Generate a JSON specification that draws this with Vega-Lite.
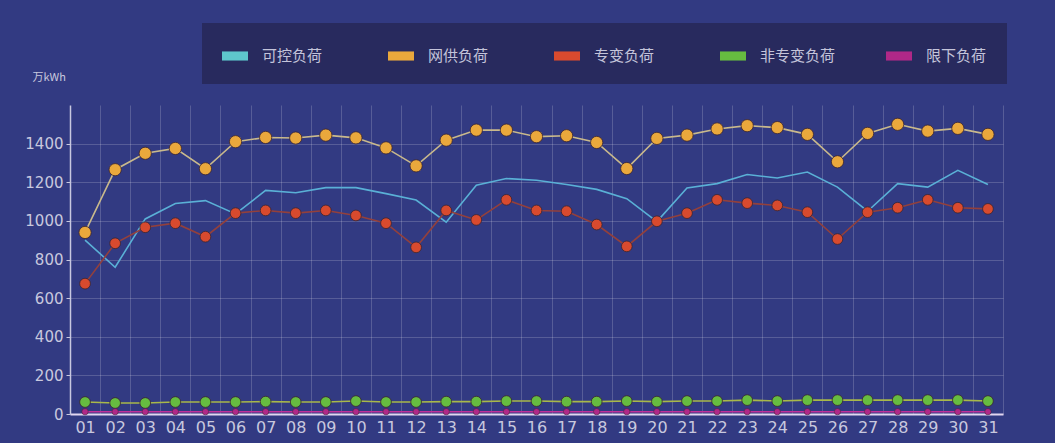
{
  "$schema": "https://vega.github.io/schema/vega-lite/v6.json",
  "width": 933,
  "height": 309,
  "autosize": {"type": "none"},
  "padding": {"left": 70, "top": 105, "right": 52, "bottom": 29},
  "background": "#323a82",
  "config": {
    "view": {"stroke": null},
    "font": "DejaVu Sans",
    "legend": {
      "orient": "none",
      "legendX": 132,
      "legendY": -82,
      "direction": "horizontal",
      "columns": 5,
      "gridAlign": "all",
      "columnPadding": 50,
      "symbolType": "M-1,-0.35L1,-0.35L1,0.35L-1,0.35Z",
      "symbolSize": 676,
      "symbolStrokeWidth": 0,
      "symbolOpacity": 1,
      "labelColor": "#c4c4da",
      "labelFont": "Noto Sans CJK SC",
      "labelFontSize": 15,
      "labelOffset": 14,
      "labelLimit": 200,
      "fillColor": "#282a5e",
      "padding": 20
    }
  },
  "data": {
    "values": [
      {"day": 1, "可控负荷": 900, "网供负荷": 940, "专变负荷": 675, "非专变负荷": 62, "限下负荷": 12},
      {"day": 2, "可控负荷": 760, "网供负荷": 1265, "专变负荷": 884, "非专变负荷": 57, "限下负荷": 12},
      {"day": 3, "可控负荷": 1010, "网供负荷": 1350, "专变负荷": 967, "非专变负荷": 57, "限下负荷": 12},
      {"day": 4, "可控负荷": 1090, "网供负荷": 1375, "专变负荷": 988, "非专变负荷": 62, "限下负荷": 12},
      {"day": 5, "可控负荷": 1105, "网供负荷": 1270, "专变负荷": 918, "非专变负荷": 62, "限下负荷": 12},
      {"day": 6, "可控负荷": 1036, "网供负荷": 1410, "专变负荷": 1040, "非专变负荷": 62, "限下负荷": 12},
      {"day": 7, "可控负荷": 1158, "网供负荷": 1432, "专变负荷": 1054, "非专变负荷": 64, "限下负荷": 12},
      {"day": 8, "可控负荷": 1146, "网供负荷": 1429, "专变负荷": 1040, "非专变负荷": 62, "限下负荷": 12},
      {"day": 9, "可控负荷": 1172, "网供负荷": 1444, "专变负荷": 1054, "非专变负荷": 62, "限下负荷": 12},
      {"day": 10, "可控负荷": 1172, "网供负荷": 1430, "专变负荷": 1028, "非专变负荷": 67, "限下负荷": 12},
      {"day": 11, "可控负荷": 1141, "网供负荷": 1378, "专变负荷": 988, "非专变负荷": 62, "限下负荷": 12},
      {"day": 12, "可控负荷": 1108, "网供负荷": 1285, "专变负荷": 863, "非专变负荷": 62, "限下负荷": 12},
      {"day": 13, "可控负荷": 993, "网供负荷": 1418, "专变负荷": 1054, "非专变负荷": 64, "限下负荷": 12},
      {"day": 14, "可控负荷": 1184, "网供负荷": 1470, "专变负荷": 1005, "非专变负荷": 64, "限下负荷": 12},
      {"day": 15, "可控负荷": 1219, "网供负荷": 1470, "专变负荷": 1109, "非专变负荷": 67, "限下负荷": 12},
      {"day": 16, "可控负荷": 1210, "网供负荷": 1436, "专变负荷": 1054, "非专变负荷": 67, "限下负荷": 12},
      {"day": 17, "可控负荷": 1188, "网供负荷": 1441, "专变负荷": 1050, "非专变负荷": 64, "限下负荷": 12},
      {"day": 18, "可控负荷": 1163, "网供负荷": 1406, "专变负荷": 981, "非专变负荷": 64, "限下负荷": 12},
      {"day": 19, "可控负荷": 1115, "网供负荷": 1271, "专变负荷": 868, "非专变负荷": 67, "限下负荷": 12},
      {"day": 20, "可控负荷": 996, "网供负荷": 1427, "专变负荷": 998, "非专变负荷": 64, "限下负荷": 12},
      {"day": 21, "可控负荷": 1170, "网供负荷": 1444, "专变负荷": 1040, "非专变负荷": 67, "限下负荷": 12},
      {"day": 22, "可控负荷": 1193, "网供负荷": 1476, "专变负荷": 1109, "非专变负荷": 67, "限下负荷": 12},
      {"day": 23, "可控负荷": 1240, "网供负荷": 1493, "专变负荷": 1092, "非专变负荷": 72, "限下负荷": 12},
      {"day": 24, "可控负荷": 1222, "网供负荷": 1483, "专变负荷": 1080, "非专变负荷": 67, "限下负荷": 12},
      {"day": 25, "可控负荷": 1253, "网供负荷": 1448, "专变负荷": 1045, "非专变负荷": 72, "限下负荷": 12},
      {"day": 26, "可控负荷": 1175, "网供负荷": 1306, "专变负荷": 906, "非专变负荷": 72, "限下负荷": 12},
      {"day": 27, "可控负荷": 1050, "网供负荷": 1453, "专变负荷": 1045, "非专变负荷": 72, "限下负荷": 12},
      {"day": 28, "可控负荷": 1193, "网供负荷": 1500, "专变负荷": 1068, "非专变负荷": 72, "限下负荷": 12},
      {"day": 29, "可控负荷": 1175, "网供负荷": 1465, "专变负荷": 1109, "非专变负荷": 72, "限下负荷": 12},
      {"day": 30, "可控负荷": 1262, "网供负荷": 1479, "专变负荷": 1068, "非专变负荷": 72, "限下负荷": 12},
      {"day": 31, "可控负荷": 1188, "网供负荷": 1448, "专变负荷": 1062, "非专变负荷": 67, "限下负荷": 12}
    ]
  },
  "transform": [
    {"fold": ["可控负荷", "网供负荷", "专变负荷", "非专变负荷", "限下负荷"], "as": ["series", "value"]}
  ],
  "encoding": {
    "x": {
      "field": "day",
      "type": "quantitative",
      "scale": {"domain": [0.5, 31.5], "nice": false, "zero": false},
      "axis": {
        "title": null,
        "values": [1, 1.5, 2, 2.5, 3, 3.5, 4, 4.5, 5, 5.5, 6, 6.5, 7, 7.5, 8, 8.5, 9, 9.5, 10, 10.5, 11, 11.5, 12, 12.5, 13, 13.5, 14, 14.5, 15, 15.5, 16, 16.5, 17, 17.5, 18, 18.5, 19, 19.5, 20, 20.5, 21, 21.5, 22, 22.5, 23, 23.5, 24, 24.5, 25, 25.5, 26, 26.5, 27, 27.5, 28, 28.5, 29, 29.5, 30, 30.5, 31, 31.5],
        "labelExpr": "datum.value % 1 === 0 ? (datum.value < 10 ? '0' + datum.value : '' + datum.value) : ''",
        "labelOverlap": false,
        "labelBound": false,
        "labelFlush": false,
        "labelFontSize": 16,
        "labelColor": "#c8c8de",
        "labelPadding": 5,
        "ticks": false,
        "grid": true,
        "gridColor": "#ffffff",
        "gridOpacity": {"condition": {"test": "datum.value % 1 === 0", "value": 0}, "value": 0.18},
        "domainColor": "#e2d6f0",
        "domainWidth": 2
      }
    },
    "y": {
      "field": "value",
      "type": "quantitative",
      "scale": {"domain": [0, 1600], "nice": false},
      "axis": {
        "title": "万kWh",
        "titleAngle": 0,
        "titleAlign": "left",
        "titleBaseline": "middle",
        "titleX": -38,
        "titleY": -28,
        "titleFont": "Noto Sans CJK SC",
        "titleFontSize": 11,
        "titleFontWeight": "normal",
        "titleColor": "#c8c8de",
        "values": [0, 200, 400, 600, 800, 1000, 1200, 1400],
        "format": "d",
        "labelFontSize": 15,
        "labelColor": "#c8c8de",
        "labelPadding": 3,
        "tickSize": 4,
        "tickColor": "#c8c8e0",
        "grid": true,
        "gridColor": "#ffffff",
        "gridOpacity": 0.18,
        "domainColor": "#c8c8e0",
        "domainWidth": 1.5
      }
    }
  },
  "layer": [
    {
      "mark": {"type": "line", "strokeWidth": 1.6},
      "encoding": {
        "stroke": {
          "field": "series",
          "type": "nominal",
          "scale": {
            "domain": ["限下负荷", "非专变负荷", "专变负荷", "网供负荷", "可控负荷"],
            "range": ["#c0309a", "#a8b84a", "#93403c", "#c9b98c", "#5ab0d6"]
          },
          "legend": null
        }
      }
    },
    {
      "transform": [{"filter": "datum.series === '网供负荷'"}],
      "mark": {"type": "point", "filled": true, "opacity": 1, "size": 150, "stroke": "#3a2430", "strokeWidth": 0.8},
      "encoding": {
        "fill": {
          "field": "series",
          "type": "nominal",
          "scale": {
            "domain": ["可控负荷", "网供负荷", "专变负荷", "非专变负荷", "限下负荷"],
            "range": ["#5ec6cc", "#eaa83c", "#d84a2e", "#66bc40", "#b02888"]
          },
          "legend": {"title": null}
        }
      }
    },
    {
      "transform": [{"filter": "datum.series === '专变负荷' || datum.series === '非专变负荷'"}],
      "mark": {"type": "point", "filled": true, "opacity": 1, "size": 115, "stroke": "#3a2430", "strokeWidth": 0.8},
      "encoding": {
        "fill": {
          "field": "series",
          "type": "nominal",
          "scale": {
            "domain": ["可控负荷", "网供负荷", "专变负荷", "非专变负荷", "限下负荷"],
            "range": ["#5ec6cc", "#eaa83c", "#d84a2e", "#66bc40", "#b02888"]
          },
          "legend": {"title": null}
        }
      }
    },
    {
      "transform": [{"filter": "datum.series === '限下负荷'"}],
      "mark": {"type": "point", "filled": true, "opacity": 1, "size": 40, "stroke": "#3a2430", "strokeWidth": 0.5},
      "encoding": {
        "fill": {
          "field": "series",
          "type": "nominal",
          "scale": {
            "domain": ["可控负荷", "网供负荷", "专变负荷", "非专变负荷", "限下负荷"],
            "range": ["#5ec6cc", "#eaa83c", "#d84a2e", "#66bc40", "#c040a0"]
          },
          "legend": {"title": null}
        }
      }
    }
  ]
}
